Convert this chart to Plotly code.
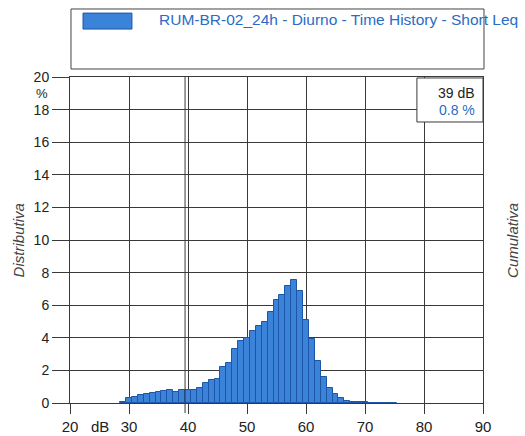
import plotly.graph_objects as go

# ---- data ----
levels_db = list(range(29, 76))
distributiva_pct = [
    0.08, 0.30, 0.35, 0.50, 0.55, 0.60, 0.70, 0.72, 0.80, 0.65,   # 29-38
    0.80, 0.80, 0.82, 0.90, 1.25, 1.40, 1.45, 2.20, 2.45, 3.30,   # 39-48
    3.80, 4.00, 4.40, 4.70, 5.00, 5.60, 6.30, 6.60, 7.15, 7.55,   # 49-58
    6.90, 5.10, 3.90, 2.60, 1.60, 0.90, 0.55, 0.30, 0.15, 0.08,   # 59-68
    0.05, 0.04, 0.03, 0.02, 0.02, 0.01, 0.01,                     # 69-75
]
x_ticks = [20, 30, 40, 50, 60, 70, 80, 90]
y_ticks = [0, 2, 4, 6, 8, 10, 12, 14, 16, 18, 20]
series_name = "RUM-BR-02_24h - Diurno - Time History - Short Leq"
cursor_db = 39
cursor_pct = distributiva_pct[levels_db.index(cursor_db)]

BAR_FILL = "#3b83d8"
BAR_EDGE = "#1d56a8"
GRID = "#3a3a3a"
TEXT = "#222222"
FONT = "Liberation Sans, Arial, sans-serif"

fig = go.Figure()
fig.add_trace(go.Bar(
    x=levels_db, y=distributiva_pct, width=1.0,
    marker=dict(color=BAR_FILL, line=dict(color=BAR_EDGE, width=1)),
    name=series_name, showlegend=False,
))

fig.update_layout(
    width=525, height=436,
    margin=dict(l=70, r=42, t=77, b=33),
    paper_bgcolor="white", plot_bgcolor="white",
    font=dict(family=FONT, size=15, color=TEXT),
    bargap=0,
    xaxis=dict(range=[20, 90], tickvals=x_ticks, ticktext=[str(v) for v in x_ticks],
               showgrid=True, gridcolor=GRID, gridwidth=1, automargin=False,
               showline=True, mirror=True, linecolor=GRID, linewidth=1,
               ticks="outside", ticklen=10, tickcolor=GRID, tickwidth=1,
               zeroline=False, tickfont=dict(size=15, color=TEXT)),
    yaxis=dict(range=[0, 20], tickvals=y_ticks, ticktext=[str(v) for v in y_ticks],
               showgrid=True, gridcolor=GRID, gridwidth=1, automargin=False,
               showline=True, mirror=True, linecolor=GRID, linewidth=1,
               ticks="outside", ticklen=17, tickcolor=GRID, tickwidth=1,
               zeroline=False, tickfont=dict(size=14, color=TEXT)),
)

shapes = []
# cursor line
shapes.append(dict(type="line", xref="x", yref="paper", x0=cursor_db + 0.5, x1=cursor_db + 0.5,
                   y0=-0.031, y1=1, line=dict(color=GRID, width=1), layer="above"))
# cursor readout box
shapes.append(dict(type="rect", xref="paper", yref="paper", x0=0.840, x1=1.0, y0=0.862, y1=0.997,
                   fillcolor="white", line=dict(color=GRID, width=1), layer="above"))
# legend box
shapes.append(dict(type="rect", xref="paper", yref="paper", x0=0.0024, x1=1.0024, y0=1.0245, y1=1.2086,
                   fillcolor="white", line=dict(color="#444444", width=1), layer="above"))
# legend swatch
shapes.append(dict(type="rect", xref="paper", yref="paper", x0=0.0315, x1=0.150, y0=1.147, y1=1.196,
                   fillcolor=BAR_FILL, line=dict(color=BAR_EDGE, width=1), layer="above"))
fig.update_layout(shapes=shapes)

annotations = [
    dict(text=series_name, xref="paper", yref="paper", x=0.2107, y=1.175, xanchor="left", yanchor="middle",
         showarrow=False, font=dict(size=15.5, color="#2a6cc4")),
    dict(text=f"{cursor_db} dB", xref="paper", yref="paper", x=0.985, y=0.951, xanchor="right", yanchor="middle",
         showarrow=False, font=dict(size=14, color=TEXT)),
    dict(text=f"{cursor_pct:.1f} %", xref="paper", yref="paper", x=0.985, y=0.899, xanchor="right", yanchor="middle",
         showarrow=False, font=dict(size=14, color="#2a6cc4")),
    dict(text="%", xref="paper", yref="y", x=0, y=19.0, xanchor="right", yanchor="middle", xshift=-20,
         showarrow=False, font=dict(size=13, color=TEXT)),
    dict(text="dB", xref="x", yref="paper", x=25, y=0, xanchor="center", yanchor="top", yshift=-13,
         showarrow=False, font=dict(size=15, color=TEXT)),
    dict(text="<i>Distributiva</i>", xref="paper", yref="paper", x=-0.125, y=0.5, textangle=-90,
         xanchor="center", yanchor="middle", showarrow=False, font=dict(size=15, color="#444444")),
    dict(text="<i>Cumulativa</i>", xref="paper", yref="paper", x=1.07, y=0.5, textangle=-90,
         xanchor="center", yanchor="middle", showarrow=False, font=dict(size=15, color="#444444")),
]
fig.update_layout(annotations=annotations)

fig.write_html("out.html")
